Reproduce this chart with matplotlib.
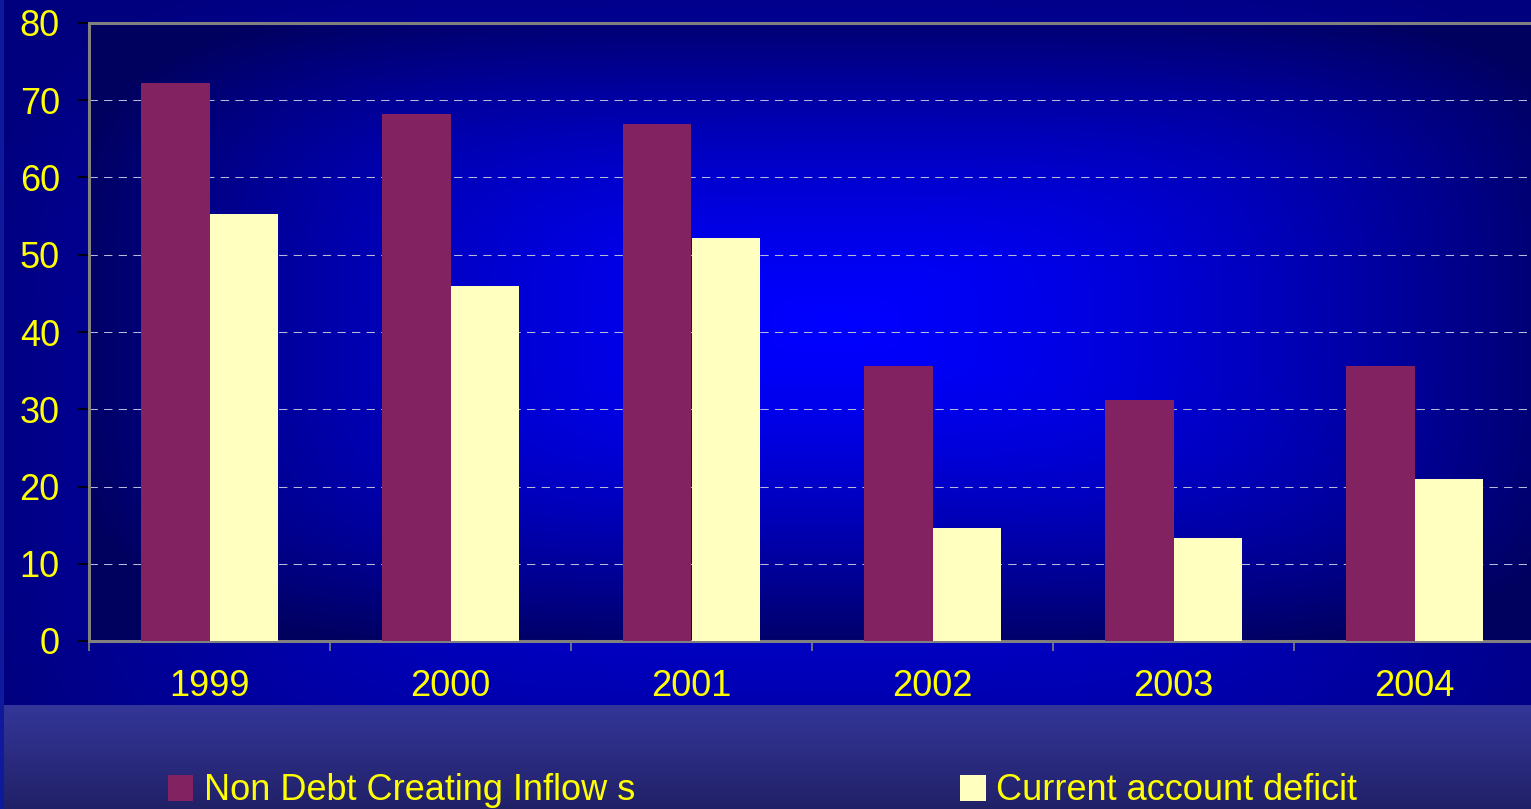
import numpy as np
import matplotlib.pyplot as plt
from matplotlib.ticker import MultipleLocator, FixedLocator

plt.rcParams["font.family"] = ["Liberation Sans", "DejaVu Sans"]

# ------------------------------------------------------------------
# data
# ------------------------------------------------------------------
years = ["1999", "2000", "2001", "2002", "2003", "2004"]
non_debt_inflows = [72.2, 68.2, 66.9, 35.6, 31.2, 35.6]
ca_deficit = [55.3, 46.0, 52.2, 14.6, 13.3, 21.0]
series_labels = ["Non Debt Creating Inflow s", "Current account deficit"]

purple = "#822260"
cream = "#FFFFC0"
yellow = "#FFFF00"

W, H = 1531, 809
fig = plt.figure(figsize=(W / 100, H / 100), dpi=100)


def blue_gradient(w, h, cx, cy, rx, ry, drop, p, norm=4):
    """rounded-rectangle blue gradient, bright at (cx, cy)."""
    yy, xx = np.mgrid[0:h, 0:w]
    r = ((np.abs(xx - cx) / rx) ** norm + (np.abs(yy - cy) / ry) ** norm) ** (1 / norm)
    r = np.clip(r, 0, 1) ** p
    img = np.zeros((h, w, 3))
    img[..., 2] = (255 - drop * r) / 255.0
    return img


# ------------------------------------------------------------------
# slide background + lighter band at the bottom
# ------------------------------------------------------------------
bg = fig.add_axes([0, 0, 1, 1], zorder=-10)
bg.set_axis_off()
img = blue_gradient(W, H, 800, 420, 820, 460, 127, 1.0)

band_top = 705
top_c = np.array([0x34, 0x36, 0x99]) / 255.0
bot_c = np.array([0x21, 0x21, 0x68]) / 255.0
for row in range(band_top, H):
    f = (row - band_top) / (H - band_top - 1)
    img[row, :] = top_c * (1 - f) + bot_c * f
img[:, :4] = np.array([0x10, 0x1A, 0x9C]) / 255.0
bg.imshow(img, extent=[0, 1, 0, 1], aspect="auto", origin="upper")
bg.set_xlim(0, 1)
bg.set_ylim(0, 1)

# ------------------------------------------------------------------
# bar chart
# ------------------------------------------------------------------
ax_left, ax_bottom, ax_w, ax_h = 89, 168, 1446, 618
ax = fig.add_axes([ax_left / W, ax_bottom / H, ax_w / W, ax_h / H])

# plot-area fill: its own gradient
plot_img = blue_gradient(ax_w, ax_h, 835 - ax_left, 325 - 23, 770, 330, 160, 1.5)
ax.imshow(plot_img, extent=[-0.5, len(years) - 0.5, 0, 80], aspect="auto",
          origin="upper", zorder=0)

x = np.arange(len(years))
width = 0.285
bars1 = ax.bar(x - width / 2, non_debt_inflows, width, color=purple, zorder=3,
               label=series_labels[0])
bars2 = ax.bar(x + width / 2, ca_deficit, width, color=cream, zorder=3,
               label=series_labels[1])

ax.set_xlim(-0.5, len(years) - 0.5)
ax.set_ylim(0, 80)
ax.yaxis.set_major_locator(MultipleLocator(10))

for v in range(10, 80, 10):
    ax.axhline(v, color="#B8B8D8", lw=0.75, ls=(0, (8, 6)), zorder=1)

for side in ["left", "bottom", "top"]:
    ax.spines[side].set_color("#808080")
    ax.spines[side].set_linewidth(2.2)
ax.spines["right"].set_visible(False)

ax.set_xticks(x)
ax.set_xticklabels(years)
ax.xaxis.set_minor_locator(FixedLocator(np.arange(-0.5, len(years), 1.0)))
ax.tick_params(axis="x", which="major", length=0, pad=20,
               labelsize=26, labelcolor=yellow)
ax.tick_params(axis="x", which="minor", length=7, width=1.2, color="#808080")
ax.tick_params(axis="y", length=8, width=1.2, color="black", pad=13,
               labelsize=26, labelcolor=yellow)

fig.legend(
    handles=[bars1, bars2],
    labels=series_labels,
    loc="center left",
    bbox_to_anchor=(168 / W, 18 / H),
    ncol=2,
    frameon=False,
    fontsize=26,
    labelcolor=yellow,
    handlelength=0.7,
    handleheight=0.7,
    handletextpad=0.3,
    columnspacing=9.0,
    borderpad=0,
    borderaxespad=0,
)

fig.savefig("out.png", dpi=100)
plt.close(fig)
